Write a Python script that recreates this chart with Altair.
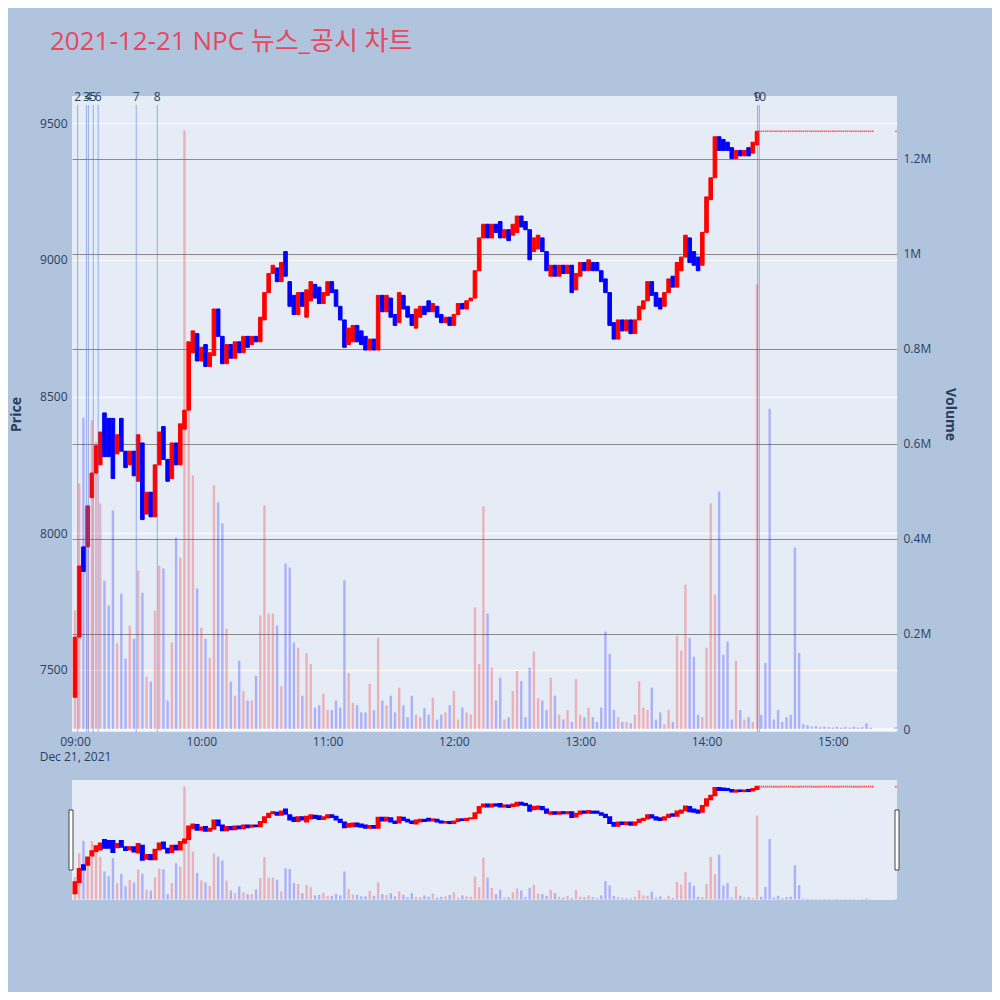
import altair as alt
import pandas as pd

TITLE = "2021-12-21 NPC 뉴스_공시 차트"

# 2-minute candles from 09:00 to 14:24
candle_open = [
    7400, 7620, 7950, 7950, 8130, 8220, 8250, 8440, 8420, 8420,
    8290, 8420, 8300, 8250, 8300, 8190, 8330, 8070, 8150, 8060,
    8250, 8390, 8270, 8200, 8330, 8250, 8380, 8450, 8660, 8730,
    8630, 8690, 8610, 8650, 8820, 8720, 8620, 8690, 8640, 8700,
    8660, 8720, 8690, 8720, 8700, 8780, 8880, 8950, 8970, 8920,
    9030, 8920, 8870, 8800, 8880, 8790, 8850, 8910, 8900, 8840,
    8870, 8920, 8890, 8830, 8780, 8690, 8700, 8760, 8740, 8720,
    8670, 8710, 8670, 8870, 8810, 8860, 8800, 8770, 8870, 8830,
    8800, 8750, 8790, 8830, 8850, 8810, 8830, 8800, 8770, 8790,
    8760, 8800, 8840, 8820, 8850, 8860, 8960, 9080, 9130, 9080,
    9130, 9140, 9080, 9110, 9090, 9100, 9160, 9140, 9110, 9030,
    9040, 9080, 9030, 8940, 8980, 8940, 8980, 8950, 8980, 8890,
    8940, 8990, 8960, 8990, 8990, 8960, 8930, 8880, 8770, 8710,
    8780, 8740, 8780, 8730, 8780, 8820, 8850, 8920, 8880, 8860,
    8830, 8880, 8940, 8900, 8960, 9010, 9080, 9030, 9010, 8980,
    9100, 9220, 9300, 9450, 9440, 9430, 9410, 9370, 9400, 9380,
    9410, 9390, 9420,
]
candle_close = [
    7620, 7880, 7860, 8100, 8220, 8320, 8370, 8280, 8280, 8200,
    8360, 8300, 8240, 8300, 8210, 8360, 8050, 8150, 8060, 8250,
    8370, 8270, 8190, 8330, 8250, 8400, 8450, 8700, 8740, 8630,
    8680, 8610, 8660, 8820, 8720, 8620, 8690, 8640, 8700, 8660,
    8720, 8680, 8720, 8700, 8790, 8880, 8950, 8980, 8920, 8990,
    8940, 8830, 8800, 8880, 8830, 8890, 8920, 8860, 8840, 8880,
    8920, 8880, 8830, 8780, 8680, 8750, 8760, 8700, 8690, 8670,
    8710, 8670, 8870, 8810, 8870, 8790, 8760, 8880, 8820, 8790,
    8760, 8820, 8830, 8800, 8810, 8840, 8790, 8770, 8790, 8760,
    8800, 8840, 8820, 8850, 8860, 8960, 9080, 9130, 9080, 9130,
    9100, 9080, 9110, 9070, 9130, 9160, 9120, 9110, 9000, 9080,
    9090, 9030, 8960, 8980, 8940, 8980, 8950, 8980, 8880, 8950,
    8990, 8960, 9000, 8960, 8960, 8920, 8880, 8760, 8710, 8780,
    8740, 8780, 8730, 8780, 8830, 8850, 8920, 8870, 8830, 8820,
    8880, 8930, 8900, 8990, 9010, 9090, 8990, 8980, 8960, 9100,
    9230, 9300, 9450, 9400, 9400, 9400, 9370, 9400, 9380, 9400,
    9380, 9430, 9470,
]
# volume per 2-minute candle, in thousands of shares
volume_k = [
    250, 517, 655, 424, 650, 604, 475, 312, 260, 460,
    180, 285, 148, 218, 190, 334, 287, 110, 100, 249,
    344, 338, 60, 182, 403, 361, 1260, 672, 534, 296,
    213, 190, 150, 513, 477, 433, 211, 100, 70, 144,
    80, 60, 60, 112, 239, 471, 243, 243, 218, 90,
    348, 340, 182, 171, 70, 160, 137, 45, 50, 74,
    40, 40, 60, 45, 313, 118, 55, 50, 35, 35,
    95, 40, 192, 60, 50, 70, 35, 87, 50, 25,
    70, 30, 25, 44, 30, 66, 20, 30, 35, 50,
    80, 20, 45, 35, 30, 256, 137, 469, 243, 129,
    60, 108, 20, 25, 80, 122, 101, 25, 129, 163,
    65, 60, 40, 108, 70, 30, 20, 40, 15, 105,
    30, 25, 45, 25, 15, 45, 205, 158, 40, 25,
    15, 15, 12, 30, 101, 45, 40, 87, 20, 35,
    10, 40, 15, 196, 165, 304, 192, 152, 30, 25,
    171, 475, 283, 500, 156, 184, 20, 144, 40, 20,
    25, 15, 936,
]
# after 14:24 the price stays flat (one tiny candle per minute)
flat_price = 9470
# volume after 14:24 in 2-minute buckets from 14:26 to 15:18, then 15:30
post_volume_k = [
    30, 139, 674, 20, 40, 15, 25, 30, 382, 160,
    10, 8, 5, 6, 4, 5, 4, 3, 5, 3,
    4, 3, 5, 3, 4, 12, 3, 4,
]

news_labels = ["2", "3", "4", "5", "6", "7", "8", "9", "10"]
news_times = [
    "2021-12-21T09:01:15", "2021-12-21T09:05:25", "2021-12-21T09:06:20",
    "2021-12-21T09:08:40", "2021-12-21T09:11:00", "2021-12-21T09:29:05",
    "2021-12-21T09:39:05", "2021-12-21T14:24:15", "2021-12-21T14:25:05",
]

price_ticks = [7500, 8000, 8500, 9000, 9500]
volume_ticks = [0, 200000, 400000, 600000, 800000, 1000000, 1200000]
hour_ticks = [9, 10, 11, 12, 13, 14, 15]

# ---------------- tables ----------------
times = pd.date_range("2021-12-21 09:00", periods=len(candle_open), freq="2min")
candles = pd.DataFrame({
    "time": times,
    "open": candle_open,
    "close": candle_close,
})
candles["dir"] = ["up" if c >= o else "down" for o, c in zip(candle_open, candle_close)]

flat_times = list(pd.date_range("2021-12-21 14:25", "2021-12-21 15:19", freq="1min")) + [pd.Timestamp("2021-12-21 15:30")]
flats = pd.DataFrame({"time": flat_times, "price": [flat_price] * len(flat_times)})

post_times = list(pd.date_range("2021-12-21 14:26", "2021-12-21 15:18", freq="2min")) + [pd.Timestamp("2021-12-21 15:30")]
vols = pd.DataFrame({
    "time": list(times) + post_times,
    "volume": [v * 1000 for v in volume_k] + [v * 1000 for v in post_volume_k],
    "dir": list(candles["dir"]) + ["down"] * len(post_times),
})
news = pd.DataFrame({"time": news_times, "label": news_labels})
one = pd.DataFrame({"t": [TITLE]})

# ---------------- geometry ----------------
W, H = 825, 804
MAIN_H = 636
MINI_TOP, MINI_BOT = 684, 804
TEXT = "#2a3f5f"
FONT = "Open Sans"

def dt(h, m=0, s=0):
    return alt.DateTime(year=2021, month=12, date=21, hours=h, minutes=m, seconds=s)

x_axis = alt.Axis(
    values=[dt(h) for h in hour_ticks],
    labelExpr="hours(datum.value) == 9 ? ['09:00', 'Dec 21, 2021'] : timeFormat(datum.value, '%H:%M')",
    title=None, grid=False, ticks=False, domain=False,
    offset=-(H - MAIN_H), labelPadding=4, labelFlush=False, labelOverlap=False,
    labelLineHeight=15, labelFontSize=12, labelColor=TEXT, labelFont=FONT, zindex=1,
)
x_scale = alt.Scale(domain=[dt(8, 58, 34), dt(15, 30, 30)], nice=False, padding=0)

def X():
    return alt.X("time:T", scale=x_scale, axis=x_axis)

price_dom = [7273, 9599]
vol_dom = [-6300, 1332500]
price_main = alt.Scale(domain=price_dom, range=[MAIN_H, 0], zero=False, nice=False)
vol_main = alt.Scale(domain=vol_dom, range=[MAIN_H, 0], zero=False, nice=False)
price_mini = alt.Scale(domain=price_dom, range=[MINI_BOT, MINI_TOP], zero=False, nice=False)
vol_mini = alt.Scale(domain=vol_dom, range=[MINI_BOT, MINI_TOP], zero=False, nice=False)

col_scale = alt.Scale(domain=["up", "down"], range=["#ff0000", "#0000ff"])

price_axis = alt.Axis(
    orient="left", values=price_ticks, format="d", title="Price",
    titleFontWeight="bold", titleFontSize=14, titleColor=TEXT, titleFont=FONT,
    labelColor=TEXT, labelFont=FONT, labelFontSize=12, labelPadding=5, titlePadding=16,
    grid=True, gridColor="white", gridWidth=1, ticks=False, domain=False,
)
vol_axis = alt.Axis(
    orient="right", values=volume_ticks,
    labelExpr="datum.value == 0 ? '0' : format(datum.value / 1e6, '~g') + 'M'",
    title="Volume", titleFontWeight="bold", titleFontSize=14, titleColor=TEXT, titleFont=FONT,
    labelColor=TEXT, labelFont=FONT, labelFontSize=12, labelPadding=6, titlePadding=12,
    grid=True,
    gridColor={"condition": {"test": "datum.value === 0", "value": "white"}, "value": "#8a8a8a"},
    gridWidth={"condition": {"test": "datum.value === 0", "value": 2}, "value": 1},
    ticks=False, domain=False,
)

vol_main_l = alt.Chart(vols).mark_bar(size=2.4, opacity=0.25).encode(
    x=X(), y=alt.Y("volume:Q", scale=vol_main, axis=vol_axis), y2=alt.datum(0),
    color=alt.Color("dir:N", scale=col_scale, legend=None),
)
price_main_l = alt.Chart(candles).mark_bar(size=3.6, strokeWidth=1).encode(
    x=X(), y=alt.Y("open:Q", scale=price_main, axis=price_axis), y2="close:Q",
    color=alt.Color("dir:N", scale=col_scale, legend=None),
    stroke=alt.Stroke("dir:N", scale=col_scale, legend=None),
)
flat_main_l = alt.Chart(flats).mark_tick(orient="horizontal", size=1.6, thickness=1.6, color="#ff2020").encode(
    x=X(), y=alt.Y("price:Q", scale=price_main, axis=None),
)
news_rule = alt.Chart(news).mark_rule(color="#4169e1", opacity=0.5, strokeWidth=1).encode(
    x=X(), y=alt.value(9), y2=alt.value(MAIN_H),
)
news_text = alt.Chart(news).mark_text(baseline="middle", fontSize=12, color=TEXT, font=FONT).encode(
    x=X(), y=alt.value(1), text="label:N",
)
gap = alt.Chart(one).mark_rect(color="#b0c4de").encode(
    x=alt.value(0), x2=alt.value(W), y=alt.value(MAIN_H), y2=alt.value(MINI_TOP),
)
vol_mini_l = alt.Chart(vols).mark_bar(size=2.4, opacity=0.25).encode(
    x=X(), y=alt.Y("volume:Q", scale=vol_mini, axis=None), y2=alt.datum(0),
    color=alt.Color("dir:N", scale=col_scale, legend=None),
)
price_mini_l = alt.Chart(candles).mark_bar(size=3.4, strokeWidth=1.6).encode(
    x=X(), y=alt.Y("open:Q", scale=price_mini, axis=None), y2="close:Q",
    color=alt.Color("dir:N", scale=col_scale, legend=None),
    stroke=alt.Stroke("dir:N", scale=col_scale, legend=None),
)
flat_mini_l = alt.Chart(flats).mark_tick(orient="horizontal", size=1.6, thickness=2, color="#ff2020").encode(
    x=X(), y=alt.Y("price:Q", scale=price_mini, axis=None),
)
handle_l = alt.Chart(one).mark_rect(fill="white", stroke="#444444", strokeWidth=1).encode(
    x=alt.value(-3), x2=alt.value(1), y=alt.value(714), y2=alt.value(774),
)
handle_r = alt.Chart(one).mark_rect(fill="white", stroke="#444444", strokeWidth=1).encode(
    x=alt.value(823), x2=alt.value(827), y=alt.value(714), y2=alt.value(774),
)
title = alt.Chart(one).mark_text(
    align="left", baseline="alphabetic", fontSize=26, font="Open Sans, Noto Sans CJK KR", color="#e8475f",
).encode(x=alt.value(-22), y=alt.value(-46), text="t:N")

chart = alt.layer(
    vol_main_l, price_main_l, flat_main_l, news_rule, news_text, gap,
    vol_mini_l, price_mini_l, flat_mini_l, handle_l, handle_r, title,
).resolve_scale(y="independent").properties(
    width=W, height=H,
    autosize=alt.AutoSizeParams(type="none"),
    padding={"left": 64, "top": 88, "right": 95, "bottom": 92},
    background="#b0c4de",
).configure_view(strokeWidth=0, fill="#e5ecf6")

chart.save("out.html", embed_options={"renderer": "svg", "actions": False})
